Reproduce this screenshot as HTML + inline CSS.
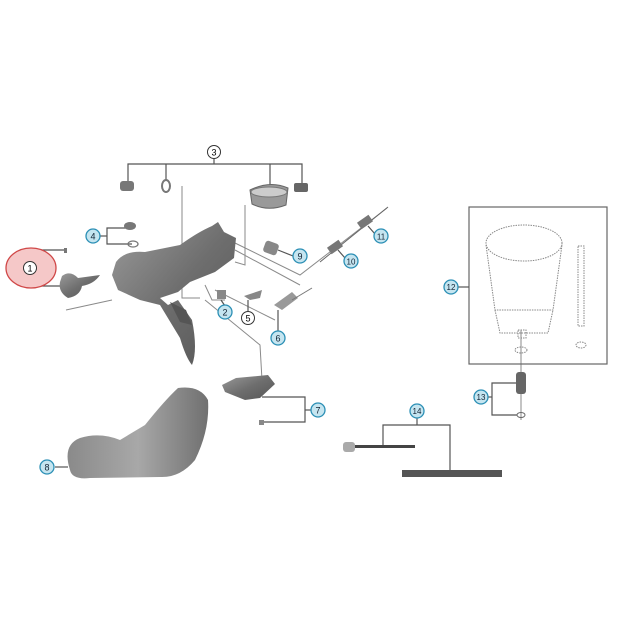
<!DOCTYPE html>
<html><head><style>
html,body{margin:0;padding:0;background:#fff;}
svg{display:block;font-family:"Liberation Sans",sans-serif;}
</style></head><body>
<svg width="620" height="620" viewBox="0 0 620 620" xmlns="http://www.w3.org/2000/svg">
<defs>
<linearGradient id="g" x1="0" y1="0" x2="1" y2="1"><stop offset="0" stop-color="#9a9a9a"/><stop offset="0.5" stop-color="#6e6e6e"/><stop offset="1" stop-color="#555"/></linearGradient>
<linearGradient id="h" x1="0" y1="0" x2="1" y2="0"><stop offset="0" stop-color="#8a8a8a"/><stop offset="0.5" stop-color="#a8a8a8"/><stop offset="1" stop-color="#707070"/></linearGradient>
</defs>
<g fill="none" stroke="#8a8a8a" stroke-width="1">
<!-- leader lines -->
<polyline points="182,186 182,298 200,298"/>
<polyline points="245,205 245,265 235,262"/>
<polyline points="66,310 112,300"/>
<polyline points="235,243 300,275 387,208"/>
<polyline points="235,250 300,285"/>
<polyline points="205,300 260,345 262,380"/>
<polyline points="205,285 212,300 225,300"/>
<polyline points="215,290 275,320"/>
<line x1="521" y1="330" x2="521" y2="420"/>
</g>
<g fill="none" stroke="#555" stroke-width="1.2">
<!-- 3 bracket -->
<polyline points="128,185 128,164 302,164 302,185"/><line x1="166" y1="164" x2="166" y2="180"/><line x1="270" y1="164" x2="270" y2="185"/><line x1="214" y1="159" x2="214" y2="164"/>
<!-- 1 bracket -->
<polyline points="64,250 42,250 42,286 62,286"/><line x1="38" y1="268" x2="42" y2="268"/>
<!-- 4 -->
<polyline points="130,228 107,228 107,244 132,244"/><line x1="100" y1="236" x2="107" y2="236"/>
<line x1="278" y1="250" x2="293" y2="256"/>
<line x1="338" y1="250" x2="345" y2="258"/>
<line x1="368" y1="226" x2="375" y2="234"/>
<line x1="221" y1="300" x2="225" y2="306"/>
<line x1="248" y1="300" x2="248" y2="311"/>
<line x1="278" y1="310" x2="278" y2="332"/>
<!-- 7 -->
<polyline points="262,397 305,397 305,422 262,422"/><line x1="305" y1="410" x2="311" y2="410"/>
<!-- 12 box -->
<rect x="469" y="207" width="138" height="157" stroke="#666"/>
<line x1="458" y1="287" x2="469" y2="287"/>
<!-- 13 -->
<polyline points="517,383 492,383 492,415 517,415"/><line x1="488" y1="397" x2="492" y2="397"/>
<!-- 14 -->
<polyline points="383,447 383,425 450,425 450,470"/><line x1="417" y1="418" x2="417" y2="425"/>
<line x1="55" y1="467" x2="68" y2="467"/>
</g>
<!-- red ellipse -->
<ellipse cx="31" cy="268" rx="25" ry="20" fill="#f5c8c8" stroke="#d04848" stroke-width="1.3"/>
<!-- parts 3 -->
<rect x="120" y="181" width="14" height="10" rx="3" fill="#777"/>
<ellipse cx="166" cy="186" rx="4" ry="6" fill="none" stroke="#777" stroke-width="2"/>
<path d="M250 190 Q270 180 288 188 L286 205 Q268 212 252 204 Z" fill="#999" stroke="#666"/>
<ellipse cx="269" cy="192" rx="18" ry="5" fill="#ccc" stroke="#777"/>
<rect x="294" y="183" width="14" height="9" rx="2" fill="#666"/>
<!-- 4 parts -->
<ellipse cx="130" cy="226" rx="6" ry="4" fill="#777"/>
<ellipse cx="133" cy="244" rx="5" ry="3" fill="none" stroke="#777" stroke-width="1.3"/>
<!-- screw & lever 1 -->
<rect x="64" y="248" width="3" height="5" fill="#777"/>
<path d="M62 276 Q70 270 78 278 L100 275 Q94 284 82 286 Q80 296 68 298 Q58 292 60 282 Z" fill="url(#g)"/>
<!-- main body -->
<path d="M116 262 Q125 250 145 252 L180 245 Q198 232 212 226 L218 222 L224 232 L236 238 L234 258 L215 272 L190 282 L178 292 L160 298 L168 305 L178 300 L192 320 Q198 350 192 365 Q186 358 180 338 L160 305 L140 300 L118 290 L112 275 Z" fill="url(#g)"/>
<path d="M170 302 L186 310 L192 325 L180 322 Z" fill="#555"/>
<!-- 9 part -->
<rect x="264" y="242" width="14" height="12" rx="3" fill="#888" transform="rotate(20 271 248)"/>
<!-- 10, 11 -->
<line x1="320" y1="262" x2="388" y2="207" stroke="#666" stroke-width="1"/>
<rect x="328" y="243" width="14" height="8" fill="#777" transform="rotate(-35 335 247)"/>
<rect x="358" y="218" width="14" height="8" fill="#777" transform="rotate(-35 365 222)"/>
<!-- 2,5,6 parts -->
<rect x="217" y="290" width="9" height="9" fill="#888"/>
<path d="M244 296 L262 290 L260 298 L250 300 Z" fill="#888"/>
<path d="M274 305 L292 292 L298 298 L282 310 Z" fill="#999"/>
<line x1="292" y1="300" x2="312" y2="288" stroke="#777"/>
<!-- part 7 -->
<path d="M222 385 L236 378 L268 375 L275 384 L260 398 L245 400 L225 392 Z" fill="url(#g)"/>
<rect x="259" y="420" width="5" height="5" fill="#888"/>
<!-- hood 8 -->
<path d="M70 470 Q62 445 80 438 Q100 432 120 440 L145 425 Q165 400 178 388 Q200 385 208 400 Q210 430 195 460 Q180 478 160 477 L90 478 Q72 480 70 470 Z" fill="url(#h)"/>
<!-- 12 contents -->
<g fill="none" stroke="#888" stroke-dasharray="1.5,1">
<ellipse cx="524" cy="243" rx="38" ry="18"/>
<path d="M486 245 L495 310 L553 310 L562 245"/>
<path d="M495 310 L500 333 L548 333 L553 310"/>
<rect x="518" y="330" width="8" height="8"/>
<ellipse cx="521" cy="350" rx="6" ry="3"/>
<rect x="578" y="246" width="6" height="80"/>
<ellipse cx="581" cy="345" rx="5" ry="3"/>
</g>
<!-- 13 part -->
<rect x="516" y="372" width="10" height="22" rx="3" fill="#666"/>
<ellipse cx="521" cy="415" rx="4" ry="2.5" fill="none" stroke="#666"/>
<!-- 14 parts -->
<rect x="343" y="442" width="12" height="10" rx="3" fill="#aaa"/>
<rect x="355" y="445" width="60" height="3" fill="#444"/>
<rect x="402" y="470" width="100" height="7" fill="#555"/>
<!-- callouts -->
<g font-size="9" text-anchor="middle">
<g fill="#fff" stroke="#333" stroke-width="1">
<circle cx="214" cy="152" r="6.5"/><circle cx="30" cy="268" r="6.5"/><circle cx="248" cy="318" r="6.5"/>
</g>
<text x="214" y="155.5">3</text><text x="30" y="271.5">1</text><text x="248" y="321.5">5</text>
<g fill="#c5e5f0" stroke="#2b8fb5" stroke-width="1.3">
<circle cx="93" cy="236" r="7"/><circle cx="300" cy="256" r="7"/><circle cx="351" cy="261" r="7"/><circle cx="381" cy="236" r="7"/>
<circle cx="225" cy="312" r="7"/><circle cx="278" cy="338" r="7"/><circle cx="318" cy="410" r="7"/><circle cx="451" cy="287" r="7"/>
<circle cx="481" cy="397" r="7"/><circle cx="417" cy="411" r="7"/><circle cx="47" cy="467" r="7"/>
</g>
<g fill="#123">
<text x="93" y="239.5">4</text><text x="300" y="259.5">9</text><text x="351" y="264.5" font-size="8">10</text><text x="381" y="239.5" font-size="8">11</text>
<text x="225" y="315.5">2</text><text x="278" y="341.5">6</text><text x="318" y="413.5">7</text><text x="451" y="290" font-size="8">12</text>
<text x="481" y="400" font-size="8">13</text><text x="417" y="414" font-size="8">14</text><text x="47" y="470.5">8</text>
</g>
</g>
</svg>
</body></html>
